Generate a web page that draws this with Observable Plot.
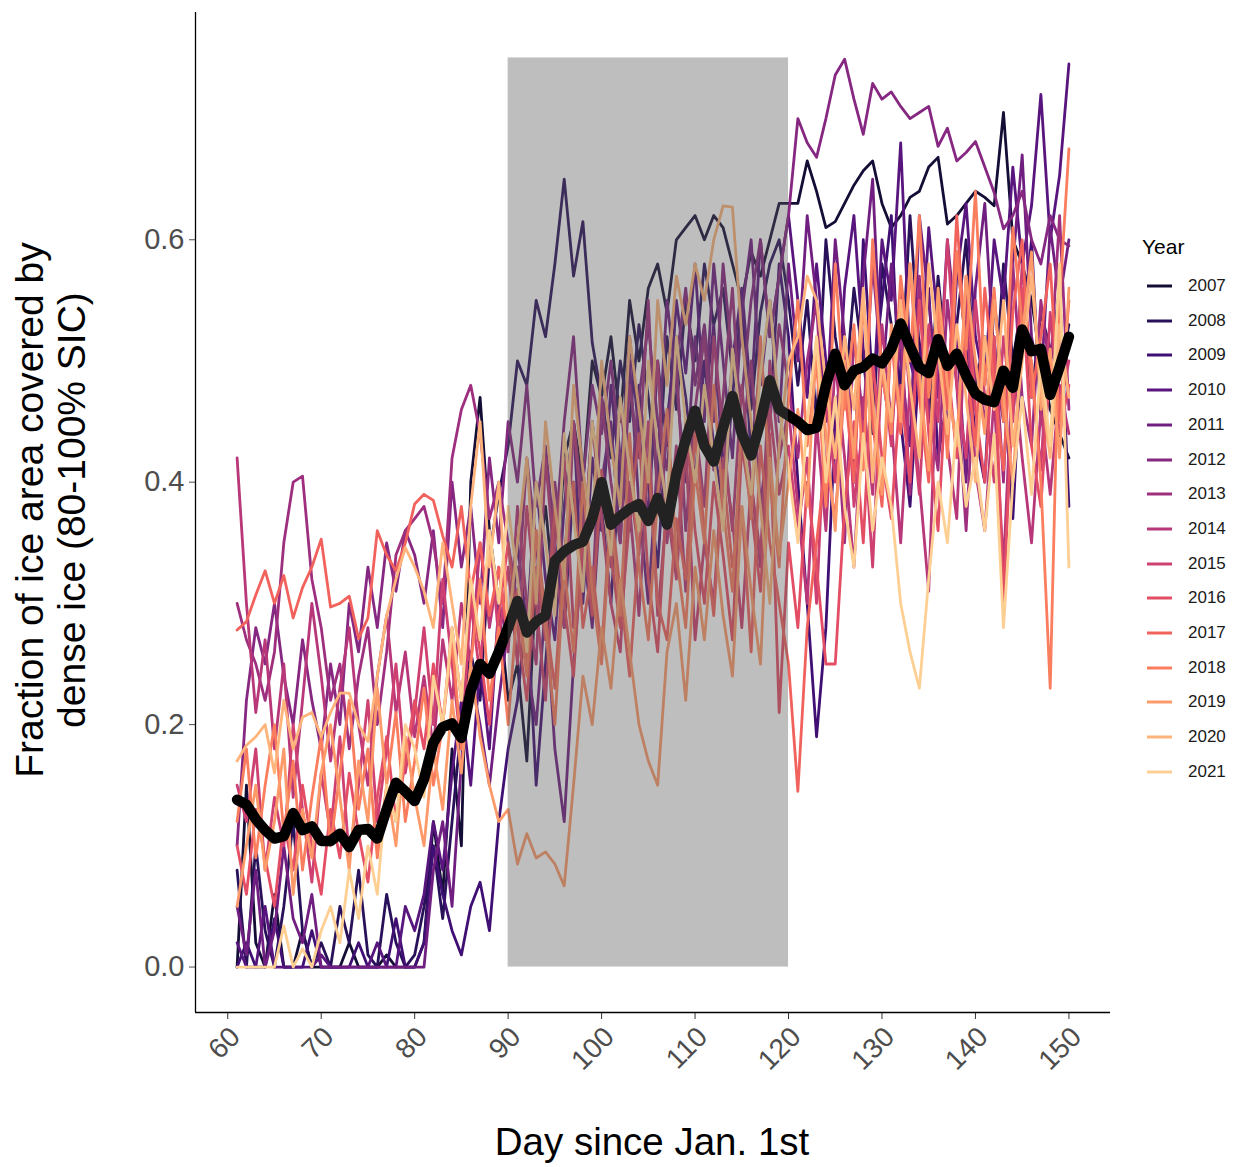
<!DOCTYPE html>
<html><head><meta charset="utf-8">
<script src="https://cdn.jsdelivr.net/npm/d3@7"></script>
<script src="https://cdn.jsdelivr.net/npm/@observablehq/plot@0.6"></script>
<style>
body{margin:0;background:#fff;font-family:"Liberation Sans",Arial,sans-serif;}
#wrap{position:relative;width:1238px;height:1167px;overflow:hidden;}
.ytitle{position:absolute;left:51px;top:510px;transform:translate(-50%,-50%) rotate(-90deg);font-size:39px;line-height:42px;text-align:center;white-space:nowrap;color:#000;}
.xtitle{position:absolute;left:0;width:1304px;top:1120px;text-align:center;font-size:38.5px;color:#000;white-space:nowrap;}
.legtitle{position:absolute;left:1142px;top:235px;font-size:21px;color:#000;}
.leglab{position:absolute;left:1188px;font-size:17px;color:#1a1a1a;}
</style></head><body><div id="wrap"></div>
<script>
const years = ["2007","2008","2009","2010","2011","2012","2013","2014","2015","2016","2017","2018","2019","2020","2021"];
const days = d3.range(61, 151);
const xTicks = [60,70,80,90,100,110,120,130,140,150];
const yTicks = [0, 0.2, 0.4, 0.6];
const windowStart = 90, windowEnd = 120, windowTop = 0.75;

const y2007 = [
0,0.15,0.02,0,0.06,0,0,0.03,0,0,
0,0,0.02,0,0,0,0.01,0,0,0,
0.02,0.12,0.06,0.18,0.10,0.40,0.47,0.36,0.30,0.22,
0.25,0.17,0.32,0.38,0.30,0.42,0.45,0.40,0.50,0.47,
0.52,0.45,0.55,0.50,0.56,0.58,0.54,0.60,0.61,0.62,
0.60,0.62,0.61,0.58,0.55,0.59,0.57,0.60,0.63,0.63,
0.63,0.665,0.64,0.61,0.615,0.63,0.645,0.657,0.665,0.63,
0.61,0.62,0.635,0.64,0.66,0.668,0.613,0.62,0.63,0.64,
0.635,0.628,0.705,0.60,0.58,0.55,0.50,0.46,0.44,0.42];
const y2008 = [
0.08,0,0.10,0.03,0,0.05,0.12,0.03,0,0.02,
0,0.05,0.02,0.08,0.01,0,0.06,0.02,0,0.01,
0.05,0.10,0.04,0.12,0.20,0.26,0.22,0.34,0.39,0.43,
0.50,0.48,0.55,0.52,0.58,0.65,0.57,0.615,0.515,0.47,
0.42,0.50,0.45,0.53,0.47,0.40,0.52,0.46,0.55,0.50,
0.58,0.53,0.56,0.49,0.52,0.46,0.54,0.58,0.60,0.55,
0.48,0.55,0.45,0.60,0.52,0.47,0.56,0.50,0.44,0.58,
0.53,0.48,0.62,0.51,0.45,0.57,0.49,0.53,0.60,0.48,
0.52,0.46,0.58,0.50,0.55,0.47,0.54,0.51,0.49,0.53];
const y2009 = [
0,0.02,0,0,0.04,0,0,0,0.03,0,
0,0,0,0.02,0,0,0,0.04,0,0,
0.02,0.10,0.06,0.03,0.01,0.05,0.07,0.03,0.12,0.18,
0.22,0.30,0.15,0.25,0.35,0.28,0.40,0.33,0.45,0.38,
0.30,0.42,0.36,0.48,0.40,0.33,0.45,0.52,0.47,0.40,
0.50,0.43,0.38,0.47,0.55,0.42,0.50,0.45,0.58,0.52,
0.40,0.30,0.19,0.28,0.45,0.52,0.40,0.60,0.48,0.55,
0.62,0.45,0.38,0.50,0.56,0.42,0.47,0.59,0.51,0.44,
0.40,0.55,0.48,0.37,0.52,0.60,0.45,0.50,0.56,0.38];
const y2010 = [
0.02,0,0,0.05,0,0,0,0,0,0.01,
0,0,0,0,0,0.02,0,0,0.05,0.03,
0.06,0.12,0.08,0.16,0.22,0.15,0.25,0.18,0.30,0.27,
0.35,0.28,0.40,0.32,0.27,0.38,0.45,0.30,0.42,0.36,
0.48,0.40,0.52,0.44,0.37,0.50,0.43,0.55,0.49,0.58,
0.46,0.53,0.41,0.50,0.56,0.47,0.60,0.52,0.57,0.62,
0.55,0.47,0.58,0.50,0.43,0.56,0.62,0.51,0.46,0.60,
0.55,0.68,0.50,0.47,0.61,0.53,0.44,0.57,0.63,0.52,
0.48,0.60,0.55,0.66,0.58,0.628,0.72,0.60,0.653,0.745];
const y2011 = [
0.05,0.01,0.08,0,0.03,0.10,0.04,0.02,0.06,0,
0,0,0,0,0,0,0,0,0,0,
0,0.08,0.12,0.05,0.17,0.24,0.20,0.15,0.22,0.28,
0.33,0.25,0.20,0.30,0.18,0.12,0.25,0.35,0.28,0.40,
0.45,0.35,0.50,0.38,0.30,0.42,0.55,0.48,0.40,0.52,
0.45,0.58,0.50,0.42,0.54,0.60,0.48,0.55,0.45,0.58,
0.50,0.62,0.55,0.45,0.60,0.52,0.40,0.57,0.65,0.48,
0.58,0.50,0.43,0.62,0.55,0.47,0.60,0.52,0.40,0.56,
0.63,0.50,0.45,0.58,0.67,0.52,0.48,0.61,0.55,0.60];
const y2012 = [
0.10,0.22,0.28,0.25,0.30,0.24,0.20,0.27,0.22,0.18,
0.25,0.20,0.30,0.26,0.33,0.28,0.35,0.31,0.36,0.34,
0.30,0.36,0.28,0.40,0.33,0.38,0.30,0.42,0.35,0.45,
0.40,0.48,0.38,0.43,0.35,0.45,0.52,0.40,0.48,0.44,
0.50,0.42,0.38,0.47,0.53,0.45,0.41,0.50,0.56,0.48,
0.53,0.45,0.58,0.50,0.47,0.55,0.60,0.52,0.57,0.62,
0.70,0.68,0.668,0.70,0.736,0.749,0.716,0.687,0.729,0.716,
0.722,0.71,0.70,0.705,0.71,0.677,0.692,0.665,0.672,0.681,
0.66,0.639,0.609,0.62,0.64,0.60,0.58,0.62,0.60,0.595];
const y2013 = [
0.30,0.27,0.25,0.22,0.26,0.35,0.40,0.405,0.32,0.28,
0.22,0.25,0.18,0.24,0.28,0.20,0.26,0.34,0.36,0.37,
0.38,0.35,0.30,0.42,0.46,0.48,0.44,0.37,0.40,0.35,
0.30,0.42,0.35,0.27,0.40,0.33,0.45,0.38,0.30,0.47,
0.40,0.35,0.48,0.42,0.55,0.38,0.44,0.50,0.36,0.46,
0.52,0.41,0.47,0.56,0.43,0.50,0.38,0.45,0.53,0.48,
0.42,0.50,0.55,0.40,0.47,0.35,0.52,0.45,0.58,0.49,
0.44,0.53,0.39,0.57,0.46,0.41,0.55,0.48,0.36,0.50,
0.45,0.52,0.40,0.58,0.47,0.43,0.55,0.49,0.62,0.46];
const y2014 = [
0.42,0.30,0.21,0.27,0.18,0.25,0.14,0.22,0.30,0.24,
0.17,0.23,0.28,0.20,0.15,0.24,0.29,0.21,0.26,0.19,
0.24,0.18,0.27,0.22,0.30,0.25,0.35,0.28,0.33,0.26,
0.38,0.30,0.25,0.42,0.33,0.28,0.45,0.36,0.30,0.40,
0.33,0.47,0.38,0.29,0.42,0.50,0.35,0.43,0.31,0.45,
0.38,0.52,0.44,0.36,0.48,0.40,0.33,0.50,0.42,0.46,
0.38,0.30,0.45,0.36,0.50,0.42,0.33,0.47,0.39,0.53,
0.45,0.35,0.48,0.40,0.31,0.52,0.43,0.37,0.55,0.41,
0.36,0.47,0.33,0.50,0.42,0.35,0.46,0.39,0.48,0.44];
const y2015 = [
0.15,0.12,0.18,0.08,0.14,0.10,0.20,0.13,0.07,0.16,
0.11,0.19,0.09,0.15,0.22,0.12,0.18,0.25,0.16,0.21,
0.28,0.20,0.32,0.25,0.18,0.30,0.24,0.36,0.27,0.33,
0.25,0.38,0.30,0.22,0.35,0.42,0.28,0.33,0.45,0.37,
0.30,0.26,0.40,0.34,0.45,0.29,0.38,0.32,0.43,0.27,
0.35,0.30,0.42,0.37,0.28,0.40,0.34,0.46,0.39,0.43,
0.36,0.42,0.30,0.47,0.40,0.52,0.38,0.45,0.33,0.50,
0.43,0.56,0.47,0.39,0.53,0.45,0.60,0.48,0.42,0.55,
0.47,0.40,0.52,0.45,0.58,0.49,0.41,0.54,0.46,0.50];
const y2016 = [
0.10,0.06,0.13,0.09,0.05,0.12,0.08,0.15,0.10,0.06,
0.13,0.09,0.16,0.11,0.07,0.14,0.19,0.12,0.17,0.22,
0.18,0.25,0.20,0.28,0.22,0.31,0.26,0.20,0.29,0.35,
0.28,0.22,0.33,0.27,0.38,0.30,0.24,0.36,0.29,0.41,
0.34,0.28,0.37,0.44,0.32,0.26,0.39,0.33,0.45,0.36,
0.30,0.40,0.34,0.27,0.43,0.38,0.31,0.44,0.21,0.35,
0.28,0.40,0.33,0.25,0.25,0.38,0.45,0.35,0.50,0.42,
0.37,0.48,0.40,0.55,0.44,0.36,0.50,0.42,0.57,0.46,
0.40,0.52,0.30,0.47,0.56,0.43,0.38,0.50,0.44,0.48];
const y2017 = [
0.278,0.285,0.307,0.327,0.30,0.323,0.288,0.313,0.33,0.353,
0.297,0.30,0.306,0.271,0.288,0.36,0.34,0.327,0.35,0.382,
0.39,0.385,0.356,0.33,0.38,0.31,0.35,0.29,0.33,0.27,
0.31,0.25,0.36,0.29,0.23,0.34,0.40,0.28,0.33,0.26,
0.38,0.31,0.24,0.35,0.42,0.30,0.27,0.37,0.32,0.44,
0.36,0.29,0.41,0.33,0.38,0.26,0.43,0.35,0.30,0.25,
0.145,0.28,0.35,0.42,0.37,0.48,0.40,0.55,0.45,0.38,
0.52,0.44,0.58,0.47,0.40,0.53,0.46,0.62,0.50,0.43,
0.56,0.48,0.41,0.54,0.60,0.47,0.52,0.58,0.45,0.55];
const y2018 = [
0.12,0.18,0.09,0.15,0.20,0.11,0.17,0.08,0.14,0.19,
0.10,0.16,0.22,0.13,0.18,0.09,0.15,0.21,0.12,0.17,
0.23,0.15,0.20,0.27,0.18,0.25,0.32,0.22,0.28,0.20,
0.30,0.24,0.36,0.28,0.20,0.33,0.26,0.40,0.31,0.25,
0.37,0.29,0.44,0.33,0.27,0.39,0.46,0.34,0.28,0.41,
0.35,0.48,0.38,0.31,0.45,0.37,0.52,0.40,0.33,0.47,
0.55,0.43,0.50,0.38,0.58,0.46,0.53,0.41,0.60,0.49,
0.44,0.57,0.50,0.62,0.47,0.55,0.42,0.59,0.51,0.64,
0.48,0.56,0.45,0.61,0.53,0.50,0.40,0.23,0.55,0.675];
const y2019 = [
0.05,0.10,0.15,0.08,0.12,0.18,0.06,0.13,0.09,0.16,
0.20,0.14,0.08,0.17,0.12,0.23,0.15,0.10,0.19,0.14,
0.10,0.18,0.13,0.22,0.16,0.25,0.19,0.15,0.12,0.13,
0.085,0.11,0.09,0.095,0.085,0.067,0.15,0.24,0.20,0.28,
0.23,0.32,0.26,0.20,0.17,0.15,0.26,0.30,0.22,0.33,
0.27,0.36,0.29,0.24,0.38,0.31,0.25,0.42,0.34,0.40,
0.46,0.38,0.52,0.44,0.36,0.50,0.42,0.55,0.47,0.39,
0.53,0.45,0.58,0.49,0.41,0.56,0.48,0.43,0.57,0.50,
0.44,0.55,0.47,0.40,0.52,0.59,0.46,0.51,0.42,0.56];
const y2020 = [
0.17,0.183,0.19,0.20,0.16,0.22,0.18,0.206,0.21,0.19,
0.21,0.226,0.226,0.20,0.186,0.24,0.29,0.32,0.346,0.33,
0.31,0.28,0.35,0.30,0.25,0.38,0.45,0.33,0.40,0.28,
0.35,0.42,0.30,0.45,0.38,0.32,0.48,0.41,0.36,0.50,
0.43,0.38,0.52,0.46,0.40,0.55,0.48,0.57,0.53,0.58,
0.55,0.60,0.628,0.627,0.52,0.45,0.38,0.30,0.43,0.50,
0.52,0.57,0.55,0.48,0.42,0.52,0.46,0.56,0.40,0.50,
0.45,0.55,0.48,0.42,0.58,0.51,0.44,0.53,0.47,0.40,
0.52,0.46,0.55,0.43,0.50,0.57,0.48,0.42,0.53,0.47];
const y2021 = [
0,0,0,0,0,0.034,0,0.015,0,0.03,
0.05,0.02,0.08,0.04,0.10,0.06,0.15,0.12,0.20,0.18,
0.14,0.24,0.20,0.28,0.22,0.32,0.27,0.36,0.30,0.38,
0.32,0.26,0.40,0.35,0.29,0.44,0.37,0.31,0.45,0.39,
0.34,0.47,0.41,0.36,0.50,0.43,0.38,0.52,0.45,0.40,
0.48,0.42,0.36,0.51,0.44,0.39,0.49,0.55,0.46,0.41,
0.35,0.45,0.52,0.40,0.47,0.38,0.33,0.44,0.36,0.42,
0.38,0.30,0.26,0.23,0.32,0.40,0.35,0.45,0.38,0.42,
0.36,0.44,0.28,0.40,0.47,0.39,0.50,0.43,0.58,0.33];
const meanValues = [
0.138,0.134,0.122,0.113,0.106,0.108,0.127,0.113,0.116,0.104,
0.104,0.110,0.099,0.113,0.114,0.106,0.130,0.152,0.145,0.137,
0.155,0.185,0.198,0.201,0.189,0.228,0.250,0.242,0.260,0.280,
0.302,0.276,0.285,0.290,0.335,0.343,0.348,0.351,0.370,0.400,
0.365,0.372,0.378,0.382,0.368,0.387,0.365,0.407,0.435,0.459,
0.430,0.417,0.445,0.471,0.440,0.422,0.450,0.484,0.460,0.455,
0.450,0.443,0.445,0.480,0.506,0.480,0.492,0.495,0.502,0.498,
0.510,0.531,0.512,0.495,0.490,0.518,0.496,0.506,0.488,0.473,
0.468,0.466,0.492,0.478,0.526,0.508,0.510,0.472,0.495,0.520];

const seriesByYear = {"2007":y2007,"2008":y2008,"2009":y2009,"2010":y2010,"2011":y2011,"2012":y2012,"2013":y2013,"2014":y2014,"2015":y2015,"2016":y2016,"2017":y2017,"2018":y2018,"2019":y2019,"2020":y2020,"2021":y2021};
const colors = years.map((y, i) => d3.interpolateMagma(0.1 + 0.8 * i / (years.length - 1)));

const rows = years.flatMap(yr => seriesByYear[yr].map((v, i) => ({day: days[i], value: v, year: yr})));
const meanRows = meanValues.map((v, i) => ({day: days[i], value: v}));

const xDomain = [56.55, 154.45];
const yDomain = [-0.0375, 0.7875];

const chart = Plot.plot({
  width: 1238, height: 1167,
  marginLeft: 195, marginRight: 128, marginTop: 12, marginBottom: 155,
  style: {fontFamily: "'Liberation Sans', Arial, sans-serif", background: "white", overflow: "visible"},
  x: {domain: xDomain},
  y: {domain: yDomain},
  color: {domain: years, range: colors},
  marks: [
    Plot.line(rows, {x: "day", y: "value", z: "year", stroke: "year", strokeWidth: 2.8}),
    Plot.line(meanRows, {x: "day", y: "value", stroke: "#000", strokeWidth: 10.5, strokeLinejoin: "round"}),
    Plot.rect([{x1: windowStart, x2: windowEnd, y1: 0, y2: windowTop}], {x1: "x1", x2: "x2", y1: "y1", y2: "y2", fill: "rgb(87,87,87)", fillOpacity: 0.39}),
    Plot.axisX({ticks: xTicks, tickSize: 7, tickFormat: () => "", label: null, color: "#333"}),
    Plot.text(xTicks, {x: d => d, y: yDomain[0], text: d => String(d), rotate: -45, textAnchor: "end", lineAnchor: "top", dy: 12, fontSize: 28, fill: "#4D4D4D"}),
    Plot.axisY({ticks: yTicks, tickFormat: d3.format(".1f"), tickSize: 6, tickPadding: 5, fontSize: 29, label: null, color: "#4D4D4D"}),
    Plot.ruleX([xDomain[0]], {stroke: "#000", strokeWidth: 1.3}),
    Plot.ruleY([yDomain[0]], {stroke: "#000", strokeWidth: 1.3})
  ]
});

const wrap = document.getElementById("wrap");
wrap.appendChild(chart);

const yt = document.createElement("div");
yt.className = "ytitle";
yt.innerHTML = "Fraction of ice area covered by<br>dense ice (80-100% SIC)";
wrap.appendChild(yt);

const xt = document.createElement("div");
xt.className = "xtitle";
xt.textContent = "Day since Jan. 1st";
wrap.appendChild(xt);

const lt = document.createElement("div");
lt.className = "legtitle";
lt.textContent = "Year";
wrap.appendChild(lt);

years.forEach((yr, i) => {
  const cy = 286 + i * 34.7;
  const sw = document.createElementNS("http://www.w3.org/2000/svg", "svg");
  sw.setAttribute("width", 30); sw.setAttribute("height", 8);
  sw.style.position = "absolute"; sw.style.left = "1145px"; sw.style.top = (cy - 4) + "px";
  const ln = document.createElementNS("http://www.w3.org/2000/svg", "line");
  ln.setAttribute("x1", 2); ln.setAttribute("x2", 27); ln.setAttribute("y1", 4); ln.setAttribute("y2", 4);
  ln.setAttribute("stroke", colors[i]); ln.setAttribute("stroke-width", 3);
  sw.appendChild(ln);
  wrap.appendChild(sw);
  const lb = document.createElement("div");
  lb.className = "leglab";
  lb.style.top = (cy - 10) + "px";
  lb.textContent = yr;
  wrap.appendChild(lb);
});
</script></body></html>
